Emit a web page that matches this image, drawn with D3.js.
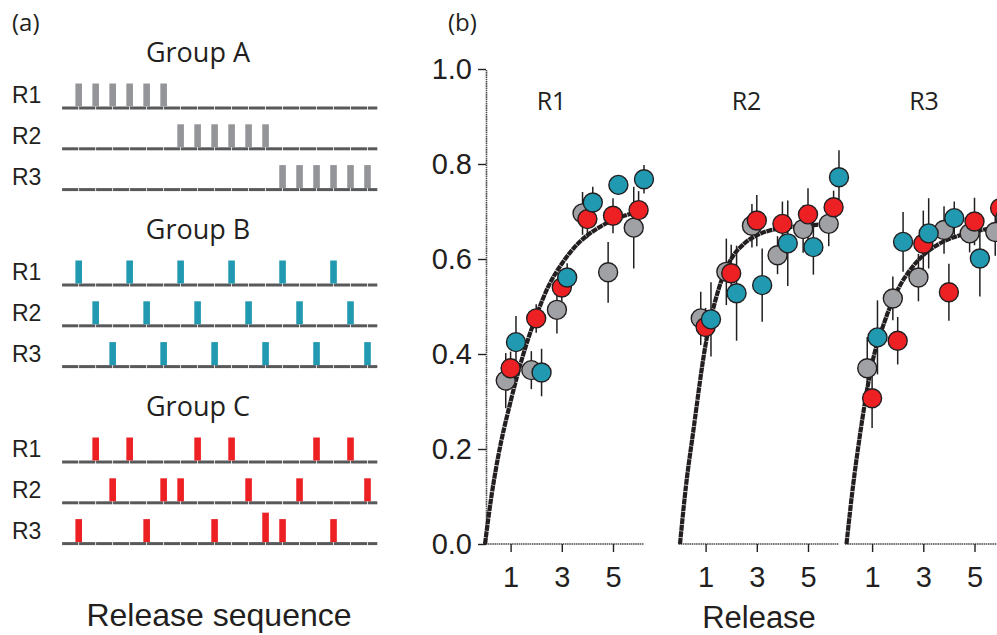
<!DOCTYPE html>
<html>
<head>
<meta charset="utf-8">
<script src="https://cdn.jsdelivr.net/npm/d3@7"></script>
<style>
  body { margin: 0; background: #fff; }
  svg { display: block; }
  .sans { font-family: Arial, "Liberation Sans", sans-serif; fill: #231f20; }
  .open { font-family: "Open Sans", "Noto Sans", sans-serif; fill: #231f20; }
</style>
</head>
<body>
<svg id="chart" width="997" height="635"></svg>
<script>
// ---- panel (a): release schedules (position in the 18-slot sequence) ----
const groups = ["Group A", "Group B", "Group C"];
const rows = ["R1", "R2", "R3"];
const groupA = [[1, 2, 3, 4, 5, 6], [7, 8, 9, 10, 11, 12], [13, 14, 15, 16, 17, 18]];
const groupB = [[1, 4, 7, 10, 13, 16], [2, 5, 8, 11, 14, 17], [3, 6, 9, 12, 15, 18]];
const groupC = [[2, 4, 8, 10, 15, 17], [3, 6, 7, 11, 14, 18], [1, 5, 9, 12, 13, 16]];
// relative bar heights (one double bar in Group C / R3)
const groupCHeights = [[1, 1, 1, 1, 1, 1], [1, 1, 1, 1, 1, 1], [1, 1, 1, 1.28, 1, 1]];
const barColors = ["#939598", "#2199b1", "#ed2024"];

// ---- panel (b): proportion vs release ----
const releases = [1, 2, 3, 4, 5, 6];
const seriesNames = ["A", "C", "B"]; // drawing order: gray, red, teal
const seriesColors = { A: "#a0a1a4", C: "#ed2024", B: "#2199b1" };

const r1Gray = [0.344, 0.366, 0.493, 0.696, 0.572, 0.666];
const r1GrayErr = [0.058, 0.04, 0.05, 0.045, 0.064, 0.086];
const r1Red = [0.37, 0.475, 0.54, 0.684, 0.691, 0.703];
const r1RedErr = [0.035, 0.03, 0.03, 0.04, 0.037, 0.04];
const r1Teal = [0.425, 0.361, 0.561, 0.719, 0.756, 0.768];
const r1TealErr = [0.055, 0.05, 0.03, 0.033, 0.02, 0.03];

const r2Gray = [0.475, 0.573, 0.67, 0.608, 0.663, 0.674];
const r2GrayErr = [0.056, 0.07, 0.046, 0.04, 0.05, 0.047];
const r2Red = [0.457, 0.57, 0.681, 0.674, 0.694, 0.709];
const r2RedErr = [0.04, 0.06, 0.054, 0.047, 0.055, 0.035];
const r2Teal = [0.473, 0.528, 0.545, 0.633, 0.625, 0.772];
const r2TealErr = [0.078, 0.1, 0.077, 0.09, 0.058, 0.057];

const r3Gray = [0.37, 0.517, 0.561, 0.661, 0.654, 0.657];
const r3GrayErr = [0.066, 0.046, 0.05, 0.05, 0.04, 0.05];
const r3Red = [0.307, 0.428, 0.632, 0.53, 0.679, 0.707];
const r3RedErr = [0.063, 0.05, 0.07, 0.06, 0.05, 0.05];
const r3Teal = [0.435, 0.636, 0.654, 0.686, 0.601, 0.687];
const r3TealErr = [0.078, 0.063, 0.074, 0.035, 0.08, 0.05];

// fitted curves
const fitX = [0, 0.25, 0.5, 1, 1.5, 2, 2.5, 3, 3.5, 4, 4.5, 5, 5.5, 6, 6.2];
const r1Fit = [0, 0.1, 0.18, 0.3, 0.4, 0.48, 0.545, 0.59, 0.625, 0.65, 0.668, 0.682, 0.692, 0.7, 0.703];
const r2Fit = [0, 0.13, 0.23, 0.42, 0.535, 0.6, 0.632, 0.65, 0.66, 0.665, 0.668, 0.67, 0.673, 0.676, 0.677];
const r3Fit = [0, 0.12, 0.22, 0.38, 0.47, 0.535, 0.578, 0.608, 0.628, 0.642, 0.651, 0.658, 0.663, 0.667, 0.668];

const panels = [
  { name: "R1", x0: 485, labelX: 2.6, fit: r1Fit, fitEnd: 6.0,
    series: { A: [r1Gray, r1GrayErr], C: [r1Red, r1RedErr], B: [r1Teal, r1TealErr] } },
  { name: "R2", x0: 680, labelX: 2.6, fit: r2Fit, fitEnd: 5.9,
    series: { A: [r2Gray, r2GrayErr], C: [r2Red, r2RedErr], B: [r2Teal, r2TealErr] } },
  { name: "R3", x0: 846.5, labelX: 3.03, fit: r3Fit, fitEnd: 6.2,
    series: { A: [r3Gray, r3GrayErr], C: [r3Red, r3RedErr], B: [r3Teal, r3TealErr] } }
];
const dodge = { A: -0.19, C: 0, B: 0.21 };

const svg = d3.select("#chart");

// ================= panel (a) =================
svg.append("text").attr("class", "open").attr("x", 12).attr("y", 31)
  .style("font-size", "24px").text("(a)");

const seqX = d3.scaleLinear().domain([0, 18.6]).range([61.7, 377.7]);
const groupTop = [108, 285, 462];
const rowGap = 40.8;
const barH = 23, barW = 6.6;
const schedules = [groupA, groupB, groupC];

schedules.forEach((sched, g) => {
  svg.append("text").attr("class", "open")
    .attr("x", 198).attr("y", groupTop[g] - 46)
    .attr("text-anchor", "middle").style("font-size", "27px")
    .text(groups[g]);

  sched.forEach((slots, r) => {
    const base = groupTop[g] + r * rowGap;
    const row = svg.append("g");

    row.append("text").attr("class", "sans")
      .attr("x", 12).attr("y", base - 5)
      .style("font-size", "23px").text(rows[r]);

    // baseline made of short segments, one per slot
    const segs = d3.range(0, 19);
    row.selectAll("line.seg").data(segs).join("line")
      .attr("x1", d => seqX(d) + 0.4)
      .attr("x2", d => seqX(Math.min(d + 1, 18.6)) - 0.4)
      .attr("y1", base).attr("y2", base)
      .attr("stroke", "#58595b").attr("stroke-width", 3);

    const heights = g === 2 ? groupCHeights[r] : slots.map(() => 1);
    row.selectAll("rect").data(slots).join("rect")
      .attr("x", d => seqX(d) - barW / 2)
      .attr("width", barW)
      .attr("y", (d, i) => base - 1.5 - barH * heights[i])
      .attr("height", (d, i) => barH * heights[i])
      .attr("fill", barColors[g]);
  });
});

svg.append("text").attr("class", "sans")
  .attr("x", 219).attr("y", 626).attr("text-anchor", "middle")
  .style("font-size", "32px").text("Release sequence");

// ================= panel (b) =================
svg.append("text").attr("class", "open").attr("x", 448).attr("y", 31)
  .style("font-size", "24px").text("(b)");

const unit = 25.6;
const y = d3.scaleLinear().domain([0, 1]).range([544, 69]);

const curveLine = (x) => d3.line()
  .x(d => x(d[0])).y(d => y(d[1]))
  .curve(d3.curveMonotoneX);

panels.forEach((p, pi) => {
  const x = d3.scaleLinear().domain([0, 6.2]).range([p.x0, p.x0 + 6.2 * unit]);
  const g = svg.append("g");

  // x axis
  const xAxis = g.append("g")
    .attr("transform", `translate(0,${y(0)})`)
    .call(d3.axisBottom(x).tickValues([1, 3, 5]).tickFormat(d3.format("d"))
      .tickSize(8).tickSizeOuter(0).tickPadding(14));
  xAxis.select(".domain").attr("d", `M${x(-0.06)},0H${x(6.2)}`)
    .attr("stroke", "#4d4d4f").attr("stroke-width", 1.6)
    .attr("stroke-dasharray", "1.6,0.6");
  xAxis.selectAll(".tick line").attr("stroke", "#231f20").attr("stroke-width", 1.4);
  xAxis.selectAll(".tick text").attr("class", "sans")
    .style("font-size", "29px").attr("fill", "#231f20");

  if (pi === 0) {
    const yAxis = g.append("g")
      .attr("transform", `translate(${p.x0 + 1},0)`)
      .call(d3.axisLeft(y).tickValues([0, 0.2, 0.4, 0.6, 0.8, 1.0])
        .tickFormat(d3.format(".1f")).tickSize(8).tickSizeOuter(0).tickPadding(6));
    yAxis.select(".domain").attr("stroke", "#4d4d4f").attr("stroke-width", 1.6)
      .attr("stroke-dasharray", "1.6,0.6");
    yAxis.selectAll(".tick line").attr("stroke", "#231f20").attr("stroke-width", 1.4);
    yAxis.selectAll(".tick text").attr("class", "sans")
      .style("font-size", "29px").attr("fill", "#231f20");
  }

  // panel label
  g.append("text").attr("class", "open")
    .attr("x", x(p.labelX)).attr("y", 110).attr("text-anchor", "middle")
    .style("font-size", "25px").text(p.name);

  // fitted curve: dark stroke with fine light breaks
  const fitPts = fitX.map((v, i) => [v, p.fit[i]]).filter(d => d[0] <= p.fitEnd + 1e-9);
  g.append("path").datum(fitPts)
    .attr("fill", "none").attr("stroke", "#231f20").attr("stroke-width", 4.2)
    .attr("stroke-dasharray", "6,0.6")
    .attr("d", curveLine(x));

  // error bars
  seriesNames.forEach(s => {
    const [vals, errs] = p.series[s];
    g.selectAll(null).data(releases).join("line")
      .attr("x1", (d) => x(d + dodge[s])).attr("x2", (d) => x(d + dodge[s]))
      .attr("y1", (d, i) => y(vals[i] - errs[i]))
      .attr("y2", (d, i) => y(vals[i] + errs[i]))
      .attr("stroke", "#231f20").attr("stroke-width", 1.5);
  });

  // markers
  seriesNames.forEach(s => {
    const [vals] = p.series[s];
    g.selectAll(null).data(releases).join("circle")
      .attr("cx", (d) => x(d + dodge[s]))
      .attr("cy", (d, i) => y(vals[i]))
      .attr("r", 9.5)
      .attr("fill", seriesColors[s])
      .attr("stroke", "#231f20").attr("stroke-width", 1.4);
  });
});

svg.append("text").attr("class", "sans")
  .attr("x", 759).attr("y", 628).attr("text-anchor", "middle")
  .style("font-size", "31px").text("Release");
</script>
</body>
</html>
